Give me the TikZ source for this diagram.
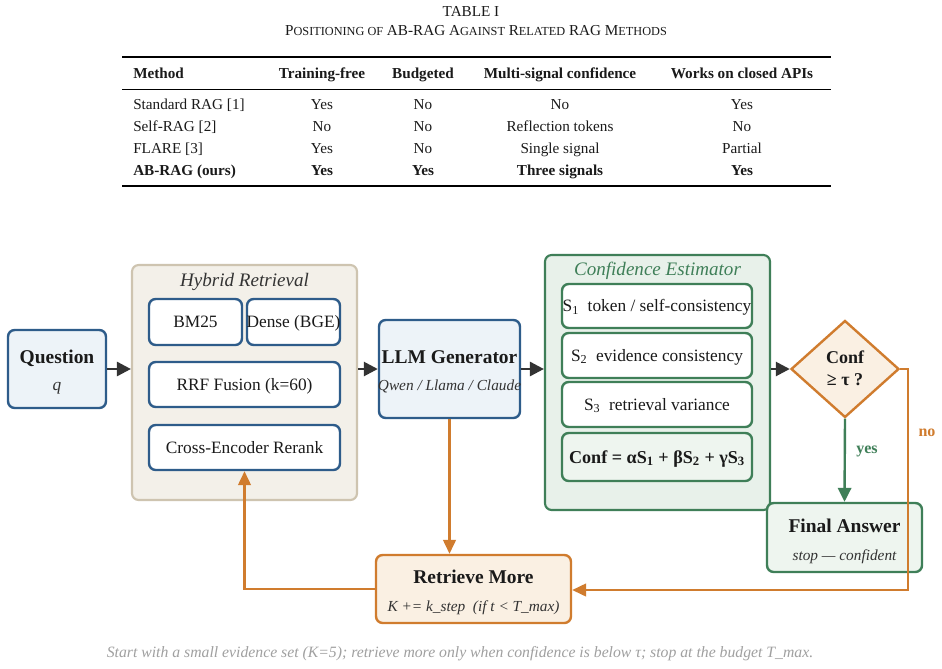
\documentclass[tikz,border=0pt]{standalone}
\usepackage{fontspec}
\setmainfont{Liberation Serif}
\usetikzlibrary{arrows.meta,shapes.geometric}
\definecolor{bblue}{HTML}{2E5C8A}
\definecolor{fblue}{HTML}{EDF3F8}
\definecolor{btan}{HTML}{CEC4B0}
\definecolor{ftan}{HTML}{F3F0E9}
\definecolor{bgreen}{HTML}{3F7F58}
\definecolor{fgreen}{HTML}{E8F1EA}
\definecolor{fgreenb}{HTML}{EEF5EF}
\definecolor{borange}{HTML}{D07C2E}
\definecolor{forange}{HTML}{FAF0E3}
\definecolor{darr}{HTML}{333333}
\definecolor{txt}{HTML}{1A1A1A}
\definecolor{capgray}{HTML}{A0A0A0}
\newcommand{\fsz}[2]{\fontsize{#1pt}{#2pt}\selectfont}
\begin{document}
\begin{tikzpicture}[x=0.75pt,y=-0.75pt,
  plain/.style={inner sep=0pt,text=txt},
  lbl/.style={plain,text depth=0pt},
  tb/.style={lbl,font=\fsz{11.4}{13},text height=7.5pt},
  tbb/.style={lbl,font=\fsz{11.4}{13}\bfseries,text height=7.5pt},
  box/.style={draw,rounded corners=5pt,line width=1.8pt,inner sep=0pt},
  bluebox/.style={box,draw=bblue,fill=fblue},
  whitebox/.style={box,draw=bblue,fill=white},
  tanbox/.style={box,draw=btan,fill=ftan,line width=1.6pt},
  greencont/.style={box,draw=bgreen,fill=fgreen,line width=1.6pt},
  greenwhite/.style={box,draw=bgreen,fill=white},
  greenbox/.style={box,draw=bgreen,fill=fgreenb},
  orangebox/.style={box,draw=borange,fill=forange},
  btitle/.style={lbl,font=\fsz{14.6}{17}\bfseries,text height=9.6pt},
  isub/.style={lbl,font=\fsz{11.5}{13}\itshape,text=darr,text height=7.6pt},
  rtext/.style={lbl,font=\fsz{13}{15},text height=8.6pt},
  ctitle/.style={lbl,font=\fsz{14.3}{16}\itshape,text height=9.4pt},
  arr/.style={-{Triangle[length=10.5pt,width=10.5pt]},line width=2pt,draw=darr},
  oarr/.style={-{Triangle[length=10.5pt,width=9.5pt]},line width=1.8pt,draw=borange},
  garr/.style={-{Triangle[length=10.5pt,width=10pt]},line width=1.8pt,draw=bgreen},
  rule/.style={line width=1.2pt,draw=black}
]
\useasboundingbox[fill=white] (0,0) rectangle (942,668);

% ---- Table ----
\node[tb] (tabt) at (471,11.7) {TABLE I};
\node[tb] (tabc) at (476,30.5) {P{\fsz{9.2}{11}OSITIONING OF} AB-RAG A{\fsz{9.2}{11}GAINST} R{\fsz{9.2}{11}ELATED} RAG M{\fsz{9.2}{11}ETHODS}};
\draw[rule] (122,57) -- (831,57);
\draw[line width=0.7pt] (122,89) -- (831,89);
\draw[rule] (122,186) -- (831,186);
\node[tbb,anchor=west] (h1) at (133,73.5) {Method};
\node[tbb] (h2) at (322,73.5) {Training-free};
\node[tbb] (h3) at (423,73.5) {Budgeted};
\node[tbb] (h4) at (560,73.5) {Multi-signal confidence};
\node[tbb] (h5) at (742,73.5) {Works on closed APIs};
\node[tb,anchor=west] (r1a) at (133,104.7) {Standard RAG [1]};
\node[tb] (r1b) at (322,104.7) {Yes};
\node[tb] (r1c) at (423,104.7) {No};
\node[tb] (r1d) at (560,104.7) {No};
\node[tb] (r1e) at (742,104.7) {Yes};
\node[tb,anchor=west] (r2a) at (133,126.5) {Self-RAG [2]};
\node[tb] (r2b) at (322,126.5) {No};
\node[tb] (r2c) at (423,126.5) {No};
\node[tb] (r2d) at (560,126.5) {Reflection tokens};
\node[tb] (r2e) at (742,126.5) {No};
\node[tb,anchor=west] (r3a) at (133,148.3) {FLARE [3]};
\node[tb] (r3b) at (322,148.3) {Yes};
\node[tb] (r3c) at (423,148.3) {No};
\node[tb] (r3d) at (560,148.3) {Single signal};
\node[tb] (r3e) at (742,148.3) {Partial};
\node[tbb,anchor=west] (r4a) at (133,170) {AB-RAG (ours)};
\node[tbb] (r4b) at (322,170) {Yes};
\node[tbb] (r4c) at (423,170) {Yes};
\node[tbb] (r4d) at (560,170) {Three signals};
\node[tbb] (r4e) at (742,170) {Yes};

% ---- Diagram ----
\node[bluebox,minimum width=73.5pt,minimum height=58.5pt] (q) at (57,369) {};
\node[btitle] (qt) at (57,357.3) {Question};
\node[lbl,font=\fsz{13}{15}\itshape,text=darr,text height=6pt] (qs) at (57,386.7) {q};

\node[tanbox,minimum width=168.75pt,minimum height=176.25pt] (hyb) at (244.5,382.5) {};
\node[ctitle,text=darr] (hybt) at (244.5,280) {Hybrid Retrieval};
\node[whitebox,minimum width=69.75pt,minimum height=34.5pt] (bm) at (195.5,322) {};
\node[rtext] (bmt) at (195.5,322) {BM25};
\node[whitebox,minimum width=69.75pt,minimum height=34.5pt] (dn) at (293.5,322) {};
\node[rtext] (dnt) at (293.5,322) {Dense (BGE)};
\node[whitebox,minimum width=143.25pt,minimum height=33.75pt] (rrf) at (244.5,384.5) {};
\node[rtext] (rrft) at (244.5,384.5) {RRF Fusion (k=60)};
\node[whitebox,minimum width=143.25pt,minimum height=33.75pt] (ce) at (244.5,447.5) {};
\node[rtext] (cet) at (244.5,447.5) {Cross-Encoder Rerank};

\node[bluebox,minimum width=105.75pt,minimum height=73.5pt] (llm) at (449.5,369) {};
\node[btitle] (llmt) at (449.5,357) {LLM Generator};
\node[isub] (llms) at (449.5,385) {Qwen / Llama / Claude};

\node[greencont,minimum width=168.75pt,minimum height=191.25pt] (conf) at (657.5,382.5) {};
\node[ctitle,text=bgreen] (conft) at (657.5,269) {Confidence Estimator};
\node[greenwhite,minimum width=142.5pt,minimum height=33pt] (s1) at (657,306) {};
\node[rtext] (s1t) at (657,306) {S\textsubscript{1}\ \ token / self-consistency};
\node[greenwhite,minimum width=142.5pt,minimum height=33.75pt] (s2) at (657,355.5) {};
\node[rtext] (s2t) at (657,355.5) {S\textsubscript{2}\ \ evidence consistency};
\node[greenwhite,minimum width=142.5pt,minimum height=33.75pt] (s3) at (657,404.5) {};
\node[rtext] (s3t) at (657,404.5) {S\textsubscript{3}\ \ retrieval variance};
\node[greenbox,minimum width=142.5pt,minimum height=36pt] (fm) at (657,457) {};
\node[lbl,font=\fsz{13.6}{16}\bfseries,text height=9pt] (fmt) at (657,457) {Conf = αS\textsubscript{1} + βS\textsubscript{2} + γS\textsubscript{3}};

\node[diamond,draw=borange,fill=forange,line width=1.8pt,inner sep=0pt,minimum width=81pt,minimum height=72.75pt] (dia) at (845,369) {};
\node[plain,font=\fsz{13.5}{16.5}\bfseries,align=center] (diat) at (845,368) {Conf\\≥ τ ?};

\node[greenbox,minimum width=116.25pt,minimum height=51.75pt] (fin) at (844.5,537.5) {};
\node[btitle] (fint) at (844.5,526) {Final Answer};
\node[isub] (fins) at (844.5,555) {stop — confident};

\node[orangebox,minimum width=146.25pt,minimum height=51pt] (ret) at (473.5,589) {};
\node[btitle] (rett) at (473.5,577.3) {Retrieve More};
\node[isub] (rets) at (473.5,606) {K += k\_step\ \ (if t < T\_max)};

% connectors
\draw[arr] (q.east) -- (q.east -| hyb.west);
\draw[arr] (hyb.east |- llm) -- (llm.west);
\draw[arr] (llm.east) -- (llm.east -| conf.west);
\draw[arr] (conf.east |- dia) -- (dia.west);
\draw[garr] (dia.south) -- (fin.north);
\node[lbl,font=\fsz{12}{14}\bfseries,text=bgreen,text height=6pt] (yes) at (867,449) {yes};
\coordinate (noturn) at (908,590);
\draw[oarr] (dia.east) -| (noturn) -- (noturn -| ret.east);
\node[lbl,font=\fsz{12}{14}\bfseries,text=borange,text height=6pt] (no) at (927,432) {no};
\draw[oarr] (llm.south) -- (llm.south |- ret.north);
\draw[oarr] (ret.west) -| (ce.south);

\node[lbl,font=\fsz{11.8}{13}\itshape,text=capgray,text height=7.8pt] (cap) at (460,652.5) {Start with a small evidence set (K=5); retrieve more only when confidence is below τ; stop at the budget T\_max.};
\end{tikzpicture}
\end{document}
